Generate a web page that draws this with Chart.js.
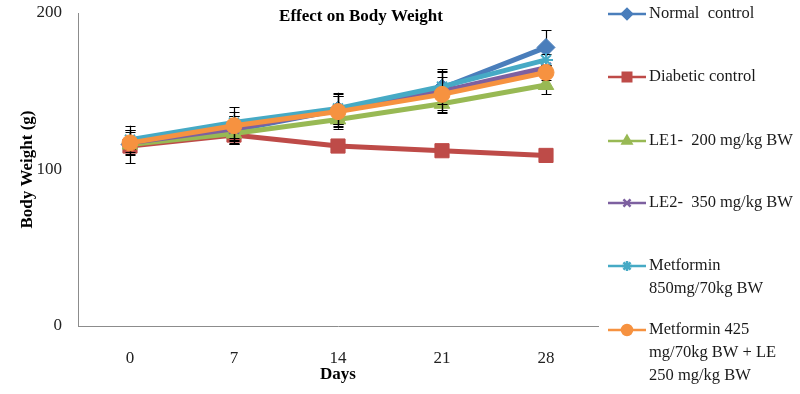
<!DOCTYPE html>
<html><head><meta charset="utf-8">
<script src="https://cdn.jsdelivr.net/npm/chart.js@4/dist/chart.umd.min.js"></script>
<style>html,body{margin:0;padding:0;background:#fff}#wrap{width:800px;height:394px}</style>
</head><body><div id="wrap"><canvas id="c" width="800" height="394"></canvas></div>
<script>
const days = ['0','7','14','21','28'];
const seriesNames = ['Normal  control','Diabetic control','LE1-  200 mg/kg BW','LE2-  350 mg/kg BW',['Metformin','850mg/70kg BW'],['Metformin 425','mg/70kg BW + LE','250 mg/kg BW']];
const normalControl = [116,125,138,152,178];
const diabeticControl = [115,122,115,112,109];
const le1 = [116,123,132,142,154];
const le2 = [117,126,138,150,165];
const metformin = [119,130,139,153,170];
const combo = [117,128,137,148,162];
const errNormal = [12,9,10,11,11];
const errDiabetic = [2,6,2,2,2];
const errLe1 = [5,6,6,6,6];
const errLe2 = [7,8,9,12,5];
const errMetformin = [6,10,10,11,4];
const errCombo = [8,9,10,11,5];
const yTicks = [0,100,200];

const colors = ['#4A7EBB','#BE4B48','#98B954','#7D60A0','#46AAC5','#F69240'];
const styles = ['rectRot','rect','triangle','crossRot','star','circle'];
const radii = [9,10,9,7,7,8];
const values = [normalControl,diabeticControl,le1,le2,metformin,combo];
const errors = [errNormal,errDiabetic,errLe1,errLe2,errMetformin,errCombo];

const serif = '"Liberation Serif","Times New Roman",serif';

const datasets = values.map((v,i)=>({
  label: Array.isArray(seriesNames[i]) ? seriesNames[i].join(' ') : seriesNames[i],
  data: v,
  errors: errors[i],
  borderColor: colors[i],
  backgroundColor: colors[i],
  borderWidth: 5,
  pointStyle: styles[i],
  pointRadius: radii[i],
  pointBorderColor: colors[i],
  pointBackgroundColor: colors[i],
  pointBorderWidth: styles[i]==='crossRot'||styles[i]==='star' ? 2 : 1,
  tension: 0,
  order: 5 - i
}));

const errorBars = {
  id:'errorBars',
  beforeDatasetDraw(chart,args){
    const ctx = chart.ctx, ys = chart.scales.y;
    const ds = chart.data.datasets[args.index];
    ctx.save();
    ctx.strokeStyle = '#000'; ctx.lineWidth = 1.2;
    args.meta.data.forEach((pt,j)=>{
      const e = ds.errors[j]; if(!e) return;
      const x = Math.round(pt.x)+0.5;
      const y1 = ys.getPixelForValue(ds.data[j]+e), y2 = ys.getPixelForValue(ds.data[j]-e);
      ctx.beginPath();
      ctx.moveTo(x,y1); ctx.lineTo(x,y2);
      ctx.moveTo(x-5,Math.round(y1)+0.5); ctx.lineTo(x+5,Math.round(y1)+0.5);
      ctx.moveTo(x-5,Math.round(y2)+0.5); ctx.lineTo(x+5,Math.round(y2)+0.5);
      ctx.stroke();
    });
    ctx.restore();
  }
};

const extras = {
  id:'extras',
  afterDraw(chart){
    const ctx = chart.ctx;
    ctx.save();
    ctx.fillStyle = '#000';
    ctx.font = 'bold 17px ' + serif;
    ctx.textAlign = 'center'; ctx.textBaseline = 'middle';
    ctx.fillText('Effect on Body Weight', 361, 17);
    const rowY = [14,77,141,203,266,330];
    ctx.textAlign = 'left';
    ctx.font = '16.5px ' + serif;
    seriesNames.forEach((name,i)=>{
      const y = rowY[i];
      ctx.strokeStyle = colors[i]; ctx.lineWidth = 2.5;
      ctx.beginPath(); ctx.moveTo(608,y); ctx.lineTo(646,y); ctx.stroke();
      ctx.fillStyle = colors[i];
      ctx.strokeStyle = colors[i];
      Chart.helpers.drawPoint(ctx,{pointStyle:styles[i],radius:styles[i]==='rect'?6:5,borderWidth:styles[i]==='crossRot'||styles[i]==='star'?1.5:1,rotation:0},627,y);
      ctx.fillStyle = '#1a1a1a';
      const lines = Array.isArray(name)?name:[name];
      lines.forEach((t,k)=>ctx.fillText(t,649,y+k*23));
    });
    ctx.restore();
  }
};

new Chart(document.getElementById('c'),{
  type:'line',
  data:{labels:days,datasets},
  plugins:[errorBars,extras],
  options:{
    responsive:false,animation:false,
    layout:{padding:{left:0,right:202,top:13,bottom:0}},
    plugins:{legend:{display:false},title:{display:false},tooltip:{enabled:false}},
    scales:{
      x:{
        offset:true,
        grid:{display:false,drawTicks:false,offset:true},
        border:{display:true,color:'#8c8c8c',width:1},
        ticks:{color:'#222',font:{family:serif,size:17},padding:22},
        title:{display:true,text:'Days',color:'#000',font:{family:serif,size:17,weight:'bold'},padding:{top:0,bottom:9}},
        afterFit(s){s.height=68;s.paddingLeft=0;s.paddingRight=0;}
      },
      y:{
        min:0,max:200,
        afterBuildTicks(s){s.ticks=yTicks.map(v=>({value:v}));},
        grid:{display:false,drawTicks:false},
        border:{display:true,color:'#8c8c8c',width:1},
        ticks:{color:'#222',font:{family:serif,size:17},padding:16},
        title:{display:true,text:'Body Weight (g)',color:'#000',font:{family:serif,size:17,weight:'bold'},padding:{top:17,bottom:0}},
        afterFit(s){s.width=78;s.paddingTop=0;s.paddingBottom=0;}
      }
    }
  }
});
</script></body></html>
